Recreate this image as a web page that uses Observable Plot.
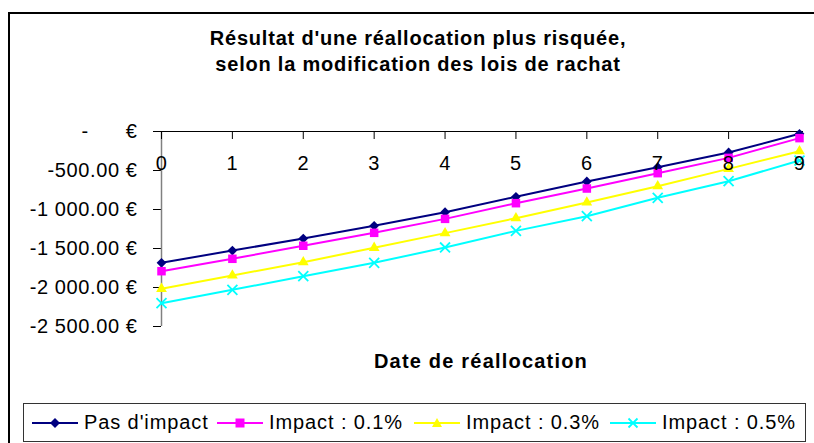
<!DOCTYPE html>
<html>
<head>
<meta charset="utf-8">
<script src="https://cdn.jsdelivr.net/npm/d3@7"></script>
<script src="https://cdn.jsdelivr.net/npm/@observablehq/plot@0.6"></script>
<style>
  html, body { margin: 0; padding: 0; background: #fff; }
  #wrap { position: relative; width: 814px; height: 443px; overflow: hidden; background: #fff;
          font-family: "Liberation Sans", Arial, sans-serif; color: #000; }
  #frame { position: absolute; left: 8px; top: 12px; width: 900px; height: 600px;
           border-left: 2px solid #000; border-top: 2px solid #000; box-sizing: border-box; }
  #title { position: absolute; left: 0; width: 836px; top: 25px; text-align: center;
           font-weight: bold; font-size: 20px; line-height: 26px; letter-spacing: 0.8px; }
  #xlabel { position: absolute; left: 0; width: 962px; top: 349px; text-align: center;
            font-weight: bold; font-size: 20px; line-height: 24px; letter-spacing: 1.2px; }
  #plot { position: absolute; left: 0; top: 0; }
  #legend { position: absolute; left: 23px; top: 403px; width: 783px; height: 39px;
            border: 1px solid #333; box-sizing: border-box; background: #fff; }
  .item { position: absolute; top: 0; height: 37px; display: flex; align-items: center; }
  .item svg { display: block; margin-right: 6px; }
  .item span { font-size: 20px; letter-spacing: 0.9px; white-space: pre; }
  #plot svg text { letter-spacing: 0.6px; }
</style>
</head>
<body>
<div id="wrap">
  <div id="frame"></div>
  <div id="title">Résultat d'une réallocation plus risquée,<br>selon la modification des lois de rachat</div>
  <div id="plot"></div>
  <div id="xlabel">Date de réallocation</div>
  <div id="legend"></div>
</div>
<script>
// ---- data ----
const dates = [0, 1, 2, 3, 4, 5, 6, 7, 8, 9];
const seriesNames = ["Pas d'impact", "Impact : 0.1%", "Impact : 0.3%", "Impact : 0.5%"];
const pasImpact = [-1683, -1526, -1372, -1209, -1034, -837, -641, -457, -269, -30];
const impact01  = [-1791, -1632, -1465, -1299, -1120, -919, -731, -534, -338, -85];
const impact03  = [-2017, -1846, -1675, -1491, -1303, -1111, -910, -701, -479, -252];
const impact05  = [-2201, -2030, -1855, -1684, -1487, -1274, -1086, -850, -637, -372];
const yTicks = [0, -500, -1000, -1500, -2000, -2500];
const yTickLabels = ["-\u00a0\u00a0\u00a0\u00a0\u00a0\u00a0€", "-500.00 €", "-1 000.00 €", "-1 500.00 €", "-2 000.00 €", "-2 500.00 €"];
const xTickLabels = ["0", "1", "2", "3", "4", "5", "6", "7", "8", "9"];
const axisCross = 0;

// ---- styles ----
const seriesValues = [pasImpact, impact01, impact03, impact05];
const colors = ["#000080", "#FF00FF", "#FFFF00", "#00FFFF"];
const symbols = ["diamond2", "square", "triangle", "times"];
const radii = [4.4, 4.8, 4.0, 4.6];

const marks = [];
// y axis ticks + labels
marks.push(Plot.axisY({
  ticks: yTicks, tickSize: 8, tickPadding: 16, label: null,
  tickFormat: d => yTickLabels[yTicks.indexOf(d)],
  fontSize: 20, stroke: "#000", fill: "#000"
}));
// y axis line (grey)
marks.push(Plot.ruleX([axisCross], {stroke: "#808080", strokeWidth: 1.5}));
// x axis line
marks.push(Plot.ruleY([axisCross], {stroke: "#000", strokeWidth: 1, insetRight: -4, insetLeft: -8}));
// x ticks (downward)
marks.push(Plot.axisX({anchor: "top", ticks: dates, tickSize: 7, dy: 7, text: null, label: null, stroke: "#000"}));

// series
seriesValues.forEach((vals, s) => {
  marks.push(Plot.line(dates, {x: d => d, y: (d, i) => vals[i], stroke: colors[s], strokeWidth: 2}));
  if (symbols[s] === "times") {
    marks.push(Plot.dot(dates, {x: d => d, y: (d, i) => vals[i], symbol: symbols[s], r: radii[s], stroke: colors[s], strokeWidth: 1.8, fill: "none"}));
  } else {
    marks.push(Plot.dot(dates, {x: d => d, y: (d, i) => vals[i], symbol: symbols[s], r: radii[s], fill: colors[s], stroke: "none"}));
  }
});

// x tick labels (drawn on top, like Excel)
marks.push(Plot.text(dates, {x: d => d, y: d => axisCross, dy: 32, text: (d, i) => xTickLabels[i], fontSize: 20, fill: "#000"}));

const chart = Plot.plot({
  width: 814, height: 443,
  marginLeft: 161, marginRight: 15, marginTop: 131, marginBottom: 117,
  x: {domain: [0, 9], axis: null},
  y: {domain: [-2500, 0], axis: null},
  style: {fontFamily: "'Liberation Sans', Arial, sans-serif", fontSize: "20px", background: "transparent", overflow: "visible", color: "#000"},
  marks
});
document.getElementById("plot").appendChild(chart);

// ---- legend ----
const legend = document.getElementById("legend");
const itemLefts = [8, 193, 390, 586];
const shapePaths = {
  diamond2: "M0,-5L5,0L0,5L-5,0Z",
  square: "M-4.5,-4.5h9v9h-9Z",
  triangle: "M0,-5L5,4L-5,4Z",
  times: "M-4.5,-4.5L4.5,4.5M4.5,-4.5L-4.5,4.5"
};
seriesNames.forEach((name, s) => {
  const div = document.createElement("div");
  div.className = "item";
  div.style.left = itemLefts[s] + "px";
  const isX = symbols[s] === "times";
  div.innerHTML = `<svg width="46" height="16" viewBox="-23 -8 46 16">
      <line x1="-23" x2="23" y1="0" y2="0" stroke="${colors[s]}" stroke-width="2"/>
      <path d="${shapePaths[symbols[s]]}" ${isX ? `fill="none" stroke="${colors[s]}" stroke-width="1.8"` : `fill="${colors[s]}"`}/>
    </svg><span>${name}</span>`;
  legend.appendChild(div);
});
</script>
</body>
</html>
